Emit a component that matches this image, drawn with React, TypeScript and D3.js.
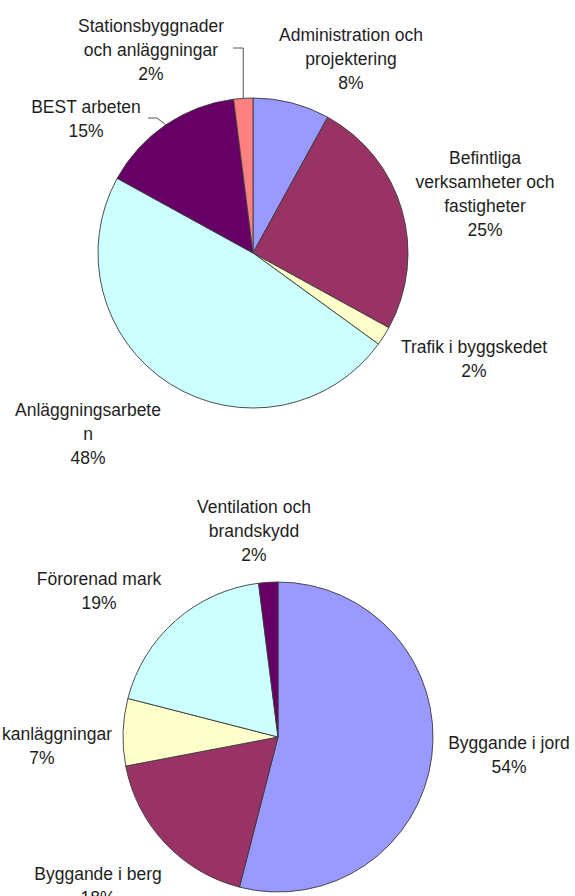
import React from 'react';
import * as d3 from 'd3';

// upper pie
const topValues = [8, 25, 2, 48, 15, 2];
const topLabels = [
    ['Administration och', 'projektering'],
    ['Befintliga', 'verksamheter och', 'fastigheter'],
    ['Trafik i byggskedet'],
    ['Anläggningsarbete', 'n'],
    ['BEST arbeten'],
    ['Stationsbyggnader', 'och anläggningar'],
];

// lower pie
const bottomValues = [54, 18, 7, 19, 2];
const bottomLabels = [
    ['Byggande i jord'],
    ['Byggande i berg'],
    ['kanläggningar'],
    ['Förorenad mark'],
    ['Ventilation och', 'brandskydd'],
];

const colours = ['#9999FF', '#993366', '#FFFFCC', '#CCFFFF', '#660066', '#FF8080'];

const W = 575;
const H = 896;
const R = 155;
const LINE = 24;
const FONT = "'Liberation Sans', Arial, sans-serif";

// label blocks (centre of first line), Excel "best fit" places them by hand
const topLayout = [
    { x: 351, y: 35 },
    { x: 485, y: 158 },
    { x: 474, y: 347 },
    { x: 88, y: 410 },
    { x: 86, y: 107, leader: { from: [148, 118], elbow: -9 } },
    { x: 151, y: 26, leader: { from: [233, 48], elbow: 0 } },
];
const bottomLayout = [
    { x: 509, y: 743 },
    { x: 98, y: 874 },
    { x: 57, y: 734, pctX: 42 },
    { x: 99, y: 579 },
    { x: 254, y: 507 },
];

const Pie = ({ cx, cy, values, labels, layout }) => {
    const arcs = d3.pie<number>().sort(null).value((d) => d)(values);
    const arc = d3.arc<d3.PieArcDatum<number>>().innerRadius(0).outerRadius(R);

    return (
        <g>
            <g transform={`translate(${cx},${cy})`}>
                {arcs.map((a, i) => (
                    <path
                        key={i}
                        d={arc(a) || ''}
                        fill={colours[i]}
                        stroke="#3a3a3a"
                        strokeWidth={0.9}
                    />
                ))}
            </g>
            {arcs.map((a, i) => {
                const pos = layout[i];
                const lines = labels[i];
                const mid = (a.startAngle + a.endAngle) / 2;
                const edge = [cx + R * Math.sin(mid), cy - R * Math.cos(mid)];
                let leader = null;
                if (pos.leader) {
                    const [x0, y0] = pos.leader.from;
                    const pts = [[x0, y0], [edge[0] + pos.leader.elbow, y0], edge];
                    leader = (
                        <path
                            d={d3.line()(pts as [number, number][]) || ''}
                            fill="none"
                            stroke="#555"
                            strokeWidth={1}
                        />
                    );
                }
                return (
                    <g key={i} fontFamily={FONT} fontSize={17.5} fill="#1e1e1e" textAnchor="middle">
                        {leader}
                        {lines.map((t, j) => (
                            <text key={j} x={pos.x} y={pos.y + j * LINE} dy="0.35em">
                                {t}
                            </text>
                        ))}
                        <text x={pos.pctX ?? pos.x} y={pos.y + lines.length * LINE} dy="0.35em">
                            {values[i] + '%'}
                        </text>
                    </g>
                );
            })}
        </g>
    );
};

export default function App() {
    return (
        <div style={{ position: 'fixed', left: 0, top: 0, width: W, height: H, background: '#fff' }}>
            <svg width={W} height={H} style={{ display: 'block' }}>
                <rect width={W} height={H} fill="#fff" />
                <Pie cx={253} cy={253} values={topValues} labels={topLabels} layout={topLayout} />
                <Pie cx={278} cy={737} values={bottomValues} labels={bottomLabels} layout={bottomLayout} />
            </svg>
        </div>
    );
}
